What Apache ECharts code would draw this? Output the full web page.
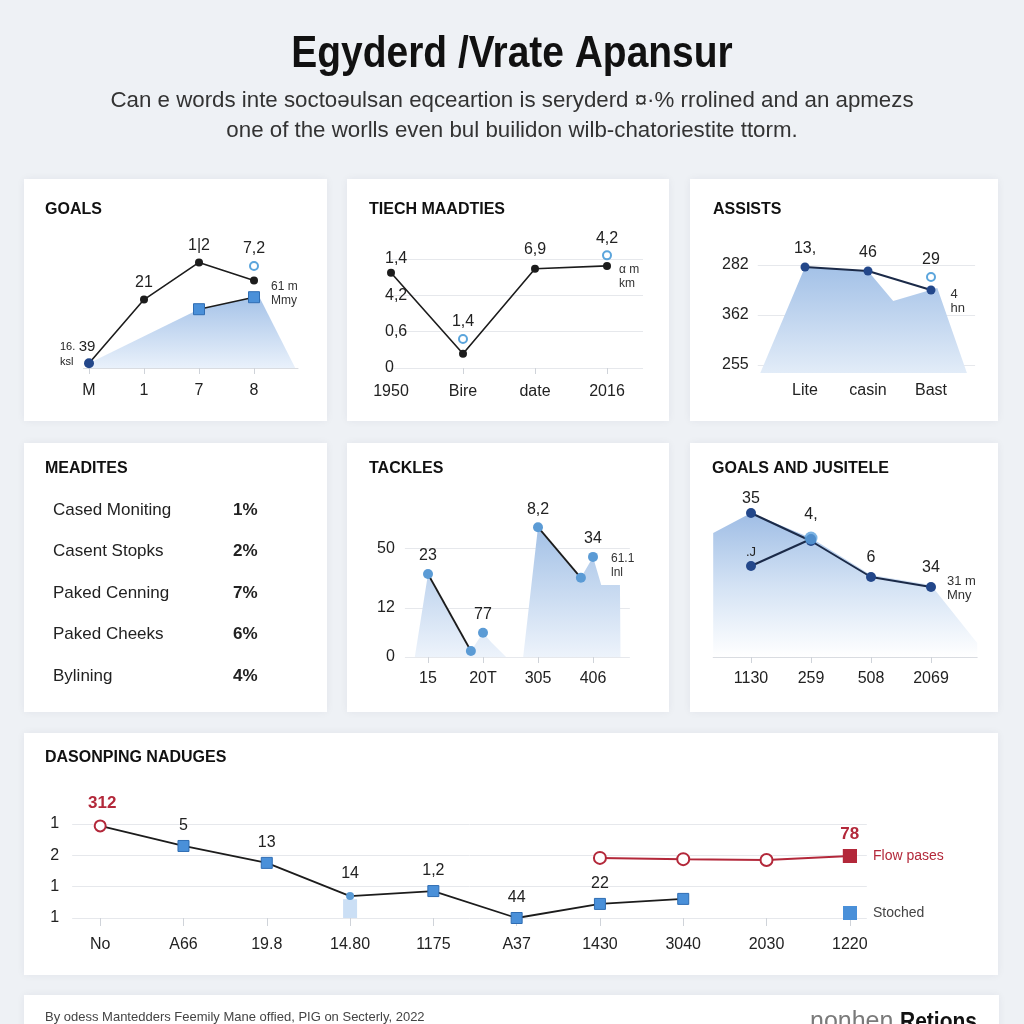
<!DOCTYPE html>
<html><head><meta charset="utf-8">
<script src="https://cdn.jsdelivr.net/npm/echarts@6/dist/echarts.min.js"></script>
<style>html,body{margin:0;padding:0;background:#eef1f5}#c{width:1024px;height:1024px}</style>
</head><body><div id="c"></div>
<script>
// ---------------- texts ----------------
const mainTitle = 'Egyderd /Vrate Apansur';
const subtitleLines = ['Can e words inte soctoəulsan eqceartion is seryderd ¤·% rrolined and an apmezs',
                       'one of the worlls even bul builidon wilb-chatoriestite ttorm.'];
const footerNote = 'By odess Mantedders Feemily Mane offied, PIG on Secterly, 2022';
const brandLight = 'nonhen.';
const brandBold = 'Retions';
const panelTitles = ['GOALS', 'TIECH MAADTIES', 'ASSISTS', 'MEADITES', 'TACKLES', 'GOALS AND JUSITELE', 'DASONPING NADUGES'];

// ---------------- panel 1: GOALS ----------------
const goalsCats = ['M', '1', '7', '8'];
const goalsLine = [4, 57, 88, 73];
const goalsLineLabels = ['', '21', '1|2', ''];
const goalsSquares = [49, 59];            // at categories 7, 8
const goalsHollow = 85;                   // at category 8
const goalsHollowLabel = '7,2';
const goalsStartNote = ['16.', '39', 'ksl'];
const goalsEndNote = ['61 m', 'Mmy'];
const goalsAreaX = [0, 2, 3, 3.1, 3.75];
const goalsAreaY = [4, 49, 59, 59, 0];

// ---------------- panel 2: TIECH MAADTIES ----------------
const techCats = ['1950', 'Bire', 'date', '2016'];
const techTickLabels = ['0', '0,6', '4,2', '1,4'];
const techLine = [2.62, 0.39, 2.73, 2.81];
const techLineLabels = ['', '', '6,9', ''];
const techHollow = [null, 0.8, null, 3.1];
const techHollowLabels = ['', '1,4', '', '4,2'];
const techEndNote = ['α m', 'km'];

// ---------------- panel 3: ASSISTS ----------------
const assistCats = ['Lite', 'casin', 'Bast'];
const assistTickLabels = ['255', '362', '282'];
const assistLine = [1.96, 1.88, 1.5];
const assistLineLabels = ['13,', '46', ''];
const assistHollow = 1.76;
const assistHollowLabel = '29';
const assistEndNote = ['4', 'hn'];
const assistAreaX = [-0.71, 0, 1, 1.4, 2.1, 2.57];
const assistAreaY = [-0.16, 1.96, 1.88, 1.28, 1.54, -0.16];

// ---------------- panel 4: MEADITES ----------------
const meaditeNames = ['Cased Moniting', 'Casent Stopks', 'Paked Cenning', 'Paked Cheeks', 'Bylining'];
const meaditeValues = ['1%', '2%', '7%', '6%', '4%'];

// ---------------- panel 5: TACKLES ----------------
const tackleCats = ['15', '20T', '305', '406'];
const tackleTickVals = [0, 0.89, 1.98];
const tackleTickLabels = ['0', '12', '50'];
const tacklePtsX = [0, 0.78, 1, 2, 2.78, 3];
const tacklePtsY = [1.51, 0.11, 0.44, 2.36, 1.44, 1.82];
const tacklePtLabels = ['23', '', '77', '8,2', '', '34'];
const tackleSeg1 = [0, 1];   // point indices joined by a line
const tackleSeg2 = [3, 4];
const tackleEndNote = ['61.1', 'lnl'];
const tackleAreaX = [-0.24, 0, 0.78, 1, 1.15, 1.42, 1.73, 2, 2.78, 3, 3.15, 3.49, 3.5];
const tackleAreaY = [0, 1.51, 0.11, 0.44, 0.27, 0, 0, 2.36, 1.44, 1.82, 1.31, 1.31, 0];

// ---------------- panel 6: GOALS AND JUSITELE ----------------
const gjCats = ['1130', '259', '508', '2069'];
const gjLine1 = [2.88, 2.32, 1.6, 1.4];
const gjLine1Labels = ['35', '', '6', '34'];
const gjLine2 = [1.82, 2.36];
const gjLine2Labels = ['.J', ''];
const gjCircle = 2.38;
const gjCircleLabel = '4,';
const gjEndNote = ['31 m', 'Mny'];
const gjAreaX = [-0.63, 0, 1, 2, 3, 3.77];
const gjAreaY = [2.48, 2.88, 2.38, 1.64, 1.44, 0.28];

// ---------------- panel 7: DASONPING NADUGES ----------------
const dasCats = ['No', 'A66', '19.8', '14.80', '1175', 'A37', '1430', '3040', '2030', '1220'];
const dasTickLabels = ['1', '1', '2', '1'];
const stoched = [2.94, 2.30, 1.76, 0.7, 0.86, 0, 0.45, 0.61, null, null];
const stochedLabels = ['312', '5', '13', '14', '1,2', '44', '22', '', '', ''];
const flowPases = [null, null, null, null, null, null, 1.92, 1.88, 1.85, 1.98];
const flowLabels = ['', '', '', '', '', '', '', '', '', '78'];
const dasFaded = [null, null, null, 0.6, null, null, null, null, null, null];

// ---------------- styling helpers ----------------
const LF = "'Liberation Sans', Arial, sans-serif";
const INK = '#1c1c1c';
const NAVY = '#23478a';
const BLUE = '#4a90d9';
const LBLUE = '#5ba5dc';
const RED = '#b3283a';
const GRIDC = '#e6e8ec';
const CLEAR = 'rgba(0,0,0,0)';
const lbl = (extra) => Object.assign({show: true, position: 'top', distance: 5, fontSize: 16, color: '#222', fontFamily: LF}, extra || {});
const noteLbl = (lines, extra) => Object.assign({show: true, position: 'right', formatter: lines.join('\n'), fontSize: 12, lineHeight: 14, color: '#333', fontFamily: LF, align: 'left'}, extra || {});
const grad = (stops) => new echarts.graphic.LinearGradient(0, 0, 0, 1, stops.map((c, i) => ({offset: i / (stops.length - 1), color: c})));
const idx = (arr) => arr.map((_, i) => i);
const hollow = (c) => ({color: '#fff', borderColor: c, borderWidth: 2, opacity: 1});
function mapLabels(cats, vals) {
  return (v) => { const i = vals.findIndex(t => Math.abs(t - v) < 1e-6); return i < 0 ? '' : cats[i]; };
}
function xAxisDef(g, min, max, cats, vals, o) {
  o = o || {};
  return {
    gridIndex: g, type: 'value', min: min, max: max,
    axisLine: {show: !!o.line, lineStyle: {color: '#d9dce1', width: 1}},
    axisTick: {show: o.tick !== false, customValues: o.tickVals || vals, length: o.tickLen || 6, lineStyle: {color: '#cfd3d9'}},
    axisLabel: {customValues: vals, formatter: mapLabels(cats, vals), margin: o.margin || 15, fontSize: 16, color: '#222', fontFamily: LF},
    splitLine: {show: false}
  };
}
function yAxisDef(g, min, max, labels, vals, o) {
  o = o || {};
  if (!labels) return {gridIndex: g, type: 'value', min: min, max: max, show: false};
  return {
    gridIndex: g, type: 'value', min: min, max: max,
    axisLine: {show: false},
    axisTick: {show: false, customValues: vals},
    axisLabel: {customValues: vals, formatter: mapLabels(labels, vals), margin: o.margin, align: o.align || 'right', fontSize: 16, color: '#222', fontFamily: LF},
    splitLine: {show: true, lineStyle: {color: GRIDC, width: 1}}
  };
}

// ---------------- grids & axes ----------------
const grids = [
  {left: 83.5, top: 248, width: 214.5, height: 120},      // goals
  {left: 391, top: 259, width: 252, height: 109},          // tech
  {left: 757.75, top: 250, width: 217.35, height: 123},    // assists
  {left: 404.9, top: 519.5, width: 224.95, height: 137.5}, // tackles
  {left: 713.2, top: 497, width: 264, height: 160},        // goals & jusitele
  {left: 72.2, top: 817.8, width: 794.6, height: 100.2}    // dasonping
].map(g => Object.assign({outerBoundsMode: 'none', containLabel: false}, g));

const xAxes = [
  xAxisDef(0, -0.1, 3.8, goalsCats, idx(goalsCats), {line: true, margin: 15}),
  xAxisDef(1, 0, 3.5, techCats, idx(techCats), {tickVals: [1, 2, 3], margin: 16}),
  xAxisDef(2, -0.75, 2.7, assistCats, idx(assistCats), {tick: false, margin: 10}),
  xAxisDef(3, -0.42, 3.67, tackleCats, idx(tackleCats), {margin: 14}),
  xAxisDef(4, -0.63, 3.77, gjCats, idx(gjCats), {line: true, margin: 14}),
  xAxisDef(5, -0.336, 9.204, dasCats, idx(dasCats), {margin: 19, tickLen: 8})
];
const yAxes = [
  yAxisDef(0, 0, 100),
  yAxisDef(1, 0, 3, techTickLabels, [0, 1, 2, 3], {align: 'left', margin: 6}),
  yAxisDef(2, -0.16, 2.3, assistTickLabels, [0, 1, 2], {align: 'left', margin: 35.75}),
  yAxisDef(3, 0, 2.5, tackleTickLabels, tackleTickVals, {margin: 10}),
  yAxisDef(4, 0, 3.2),
  yAxisDef(5, 0, 3.2, dasTickLabels, [0, 1, 2, 3], {margin: 13})
];

// ---------------- series ----------------
const S = [];
const ax = (i) => ({xAxisIndex: i, yAxisIndex: i, clip: false});
// invisible anchor point that only carries a text label
const anchor = (i, x, y, label) => Object.assign(ax(i), {type: 'scatter', symbol: 'circle', symbolSize: 2,
  itemStyle: {color: CLEAR, opacity: 1}, z: 5, data: [{value: [x, y], label: label}]});

// panel 1
S.push(Object.assign(ax(0), {type: 'line', data: goalsAreaX.map((x, i) => [x, goalsAreaY[i]]), symbol: 'none',
  lineStyle: {width: 0}, areaStyle: {color: grad(['#a6c3e8', '#e9f1fb']), opacity: 1, origin: 'start'}, silent: true, z: 1}));
S.push(Object.assign(ax(0), {type: 'line', symbol: 'circle', symbolSize: 8, itemStyle: {color: INK}, lineStyle: {color: INK, width: 1.6}, z: 3,
  data: goalsLine.map((v, i) => i === 0
    ? {value: [i, v], symbolSize: 10, itemStyle: {color: NAVY},
       label: {show: true, position: [-24, -19], align: 'left', verticalAlign: 'top', fontFamily: LF, color: '#222',
               formatter: '{s|' + goalsStartNote[0] + '} {b|' + goalsStartNote[1] + '}\n{s|' + goalsStartNote[2] + '}',
               rich: {s: {fontSize: 11, lineHeight: 15, fontFamily: LF}, b: {fontSize: 15, lineHeight: 15, fontFamily: LF}}}}
    : {value: [i, v], label: lbl({formatter: goalsLineLabels[i]})})}));
S.push(Object.assign(ax(0), {type: 'line', symbol: 'rect', symbolSize: 11, itemStyle: {color: BLUE, borderColor: '#2f6db3', borderWidth: 1},
  lineStyle: {color: INK, width: 1.6}, z: 4,
  data: goalsSquares.map((v, i) => i === goalsSquares.length - 1
    ? {value: [2 + i, v], label: noteLbl(goalsEndNote, {distance: 11, offset: [0, -4]})}
    : [2 + i, v])}));
S.push(Object.assign(ax(0), {type: 'scatter', symbol: 'circle', symbolSize: 8, itemStyle: hollow(LBLUE), z: 4,
  data: [{value: [3, goalsHollow], label: lbl({formatter: goalsHollowLabel, distance: 4})}]}));

// panel 2
S.push(Object.assign(ax(1), {type: 'line', symbol: 'circle', symbolSize: 8, itemStyle: {color: INK}, lineStyle: {color: INK, width: 1.6}, z: 3,
  data: techLine.map((v, i) => ({value: [i, v],
    label: i === techLine.length - 1 ? noteLbl(techEndNote, {distance: 8, offset: [0, 11]}) : lbl({formatter: techLineLabels[i], distance: 7})}))}));
S.push(Object.assign(ax(1), {type: 'scatter', symbol: 'circle', symbolSize: 8, itemStyle: hollow(LBLUE), z: 4,
  data: techHollow.map((v, i) => v == null ? null : {value: [i, v], label: lbl({formatter: techHollowLabels[i], distance: 4})}).filter(d => d)}));

// panel 3
S.push(Object.assign(ax(2), {type: 'line', data: assistAreaX.map((x, i) => [x, assistAreaY[i]]), symbol: 'none',
  lineStyle: {width: 0}, areaStyle: {color: grad(['#a3c1e7', '#e2ecf8']), opacity: 1, origin: 'start'}, silent: true, z: 1}));
S.push(Object.assign(ax(2), {type: 'line', symbol: 'circle', symbolSize: 9, itemStyle: {color: NAVY}, lineStyle: {color: '#1b2a48', width: 2}, z: 3,
  data: assistLine.map((v, i) => ({value: [i, v],
    label: i === assistLine.length - 1 ? noteLbl(assistEndNote, {distance: 15, offset: [0, 11], fontSize: 13}) : lbl({formatter: assistLineLabels[i], distance: 6})}))}));
S.push(Object.assign(ax(2), {type: 'scatter', symbol: 'circle', symbolSize: 8, itemStyle: hollow(LBLUE), z: 4,
  data: [{value: [2, assistHollow], label: lbl({formatter: assistHollowLabel, distance: 4})}]}));

// panel 5
S.push(Object.assign(ax(3), {type: 'line', data: tackleAreaX.map((x, i) => [x, tackleAreaY[i]]), symbol: 'none',
  lineStyle: {width: 0}, areaStyle: {color: grad(['#a3c1e6', '#edf3fb']), opacity: 1, origin: 'start'}, silent: true, z: 1}));
[tackleSeg1, tackleSeg2].forEach(seg => S.push(Object.assign(ax(3), {type: 'line', symbol: 'none', lineStyle: {color: INK, width: 1.8}, z: 2,
  data: seg.map(k => [tacklePtsX[k], tacklePtsY[k]])})));
S.push(Object.assign(ax(3), {type: 'scatter', symbol: 'circle', symbolSize: 10, itemStyle: {color: '#5b9bd5', opacity: 1}, z: 3,
  data: tacklePtsX.map((x, i) => ({value: [x, tacklePtsY[i]], label: lbl({formatter: tacklePtLabels[i]})}))}));
S.push(anchor(3, tacklePtsX[5], tacklePtsY[5], noteLbl(tackleEndNote, {distance: 17, offset: [0, 9]})));

// panel 6
S.push(Object.assign(ax(4), {type: 'line', data: gjAreaX.map((x, i) => [x, gjAreaY[i]]), symbol: 'none',
  lineStyle: {width: 0}, areaStyle: {color: grad(['#9fbde5', '#d3e2f4', '#ffffff']), opacity: 1, origin: 'start'}, silent: true, z: 1}));
S.push(Object.assign(ax(4), {type: 'line', symbol: 'circle', symbolSize: 10, itemStyle: {color: NAVY}, lineStyle: {color: '#1b2a48', width: 2}, z: 3,
  data: gjLine1.map((v, i) => ({value: [i, v],
    label: i === gjLine1.length - 1 ? noteLbl(gjEndNote, {distance: 11, offset: [0, 1], fontSize: 13})
         : lbl({formatter: gjLine1Labels[i], distance: i === 0 ? 1 : 6})}))}));
S.push(anchor(4, 3, gjLine1[3], lbl({formatter: gjLine1Labels[3], distance: 10})));
S.push(Object.assign(ax(4), {type: 'line', symbol: 'circle', symbolSize: 10, itemStyle: {color: NAVY}, lineStyle: {color: '#1b2a48', width: 2}, z: 3,
  data: gjLine2.map((v, i) => ({value: [i, v], label: lbl({formatter: gjLine2Labels[i], fontSize: 13, distance: 2})}))}));
S.push(Object.assign(ax(4), {type: 'scatter', symbol: 'circle', symbolSize: 13, itemStyle: {color: 'rgba(91,160,220,0.8)', opacity: 1}, z: 4,
  data: [{value: [1, gjCircle], label: lbl({formatter: gjCircleLabel, distance: 9})}]}));

// panel 7
S.push(Object.assign(ax(5), {type: 'bar', barWidth: 14, itemStyle: {color: 'rgba(140,185,232,0.45)'}, z: 2,
  data: dasFaded.map((v, i) => v == null ? null : [i, v]).filter(d => d)}));
S.push(Object.assign(ax(5), {name: 'Stoched', type: 'line', symbol: 'rect', symbolSize: 11,
  itemStyle: {color: BLUE, borderColor: '#2f6db3', borderWidth: 1}, lineStyle: {color: INK, width: 1.8}, z: 3,
  data: stoched.map((v, i) => {
    if (v == null) return null;
    if (i === 0) return {value: [i, v], symbol: 'circle', symbolSize: 11, itemStyle: hollow(RED),
      label: lbl({formatter: stochedLabels[i], color: RED, fontWeight: 'bold', fontSize: 17, distance: 8, offset: [2, 0]})};
    if (i === 3) return {value: [i, v], symbol: 'circle', symbolSize: 8, itemStyle: {color: '#5b9bd5', borderWidth: 0},
      label: lbl({formatter: stochedLabels[i], distance: 10})};
    return {value: [i, v], label: lbl({formatter: stochedLabels[i], distance: 6})};
  }).filter(d => d)}));
S.push(Object.assign(ax(5), {name: 'Flow pases', type: 'line', symbol: 'circle', symbolSize: 12,
  itemStyle: hollow(RED), lineStyle: {color: RED, width: 2}, z: 3,
  data: flowPases.map((v, i) => {
    if (v == null) return null;
    if (i === flowPases.length - 1) return {value: [i, v], symbol: 'rect', symbolSize: 14, itemStyle: {color: RED, borderColor: RED, borderWidth: 0},
      label: lbl({formatter: flowLabels[i], color: RED, fontWeight: 'bold', fontSize: 17, distance: 6})};
    return {value: [i, v]};
  }).filter(d => d)}));

// ---------------- graphic (panels, titles, table) ----------------
const panels = [[24, 179, 303, 242], [347, 179, 322, 242], [690, 179, 308, 242],
                [24, 443, 303, 269], [347, 443, 322, 269], [690, 443, 308, 269],
                [24, 733, 974, 242], [24, 995, 975, 60]];
const panelTitlePos = [[45, 210], [369, 210], [713, 210], [45, 469], [369, 469], [712, 469], [45, 758]];
const G = [];
panels.forEach(p => G.push({type: 'rect', shape: {x: p[0], y: p[1], width: p[2], height: p[3]}, z: -10,
  style: {fill: '#ffffff', shadowBlur: 8, shadowColor: 'rgba(30,40,60,0.06)'}}));
function txt(x, y, text, font, fill, align, extra) {
  return Object.assign({type: 'text', x: x, y: y, z: 10,
    style: {text: text, font: font, fill: fill, align: align || 'left', textAlign: align || 'left', verticalAlign: 'middle', textVerticalAlign: 'middle'}}, extra || {});
}
G.push(txt(512, 55, mainTitle, "bold 45px " + LF, '#111', 'center', {scaleX: 0.865}));
subtitleLines.forEach((s, i) => G.push(txt(512, 101 + i * 29.5, s, "22.3px " + LF, '#333', 'center')));
panelTitles.forEach((t, i) => G.push(txt(panelTitlePos[i][0], panelTitlePos[i][1], t, "bold 16px " + LF, '#111')));
meaditeNames.forEach((n, i) => {
  G.push(txt(53, 510 + i * 41.5, n, "17px " + LF, '#222'));
  G.push(txt(233, 510 + i * 41.5, meaditeValues[i], "bold 17px " + LF, '#222'));
});
G.push(txt(45, 1017, footerNote, "13px " + LF, '#444'));
G.push(txt(810, 1022, brandLight, "25px " + LF, '#7a7a7a'));
G.push(txt(900, 1022, brandBold, "bold 21px " + LF, '#111', 'left', {scaleY: 1.15}));

const chart = echarts.init(document.getElementById('c'), null, {renderer: 'canvas', width: 1024, height: 1024});
chart.setOption({
  backgroundColor: '#eef1f5',
  animation: false,
  grid: grids,
  xAxis: xAxes,
  yAxis: yAxes,
  legend: {show: true, orient: 'vertical', left: 843, top: 849, padding: 0, itemWidth: 14, itemHeight: 14, itemGap: 43, selectedMode: false,
    data: [{name: 'Flow pases', icon: 'rect', itemStyle: {color: RED, borderWidth: 0}, textStyle: {color: RED}},
           {name: 'Stoched', icon: 'rect', itemStyle: {color: BLUE, borderWidth: 0}, textStyle: {color: '#444'}}],
    textStyle: {fontSize: 14, fontFamily: LF, padding: [0, 0, 0, 11]}},
  graphic: {elements: G},
  series: S
});
</script></body></html>
